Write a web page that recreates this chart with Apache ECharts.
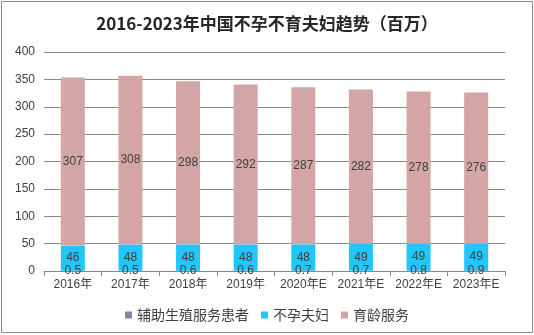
<!DOCTYPE html>
<html><head><meta charset="utf-8">
<script src="https://cdn.jsdelivr.net/npm/echarts@6/dist/echarts.min.js"></script>
<style>html,body{margin:0;padding:0;background:#fff}#c{width:534px;height:335px}</style>
</head><body><div id="c"></div>
<script>
var categories = ['2016年','2017年','2018年','2019年','2020年E','2021年E','2022年E','2023年E'];
var artPatients = [0.5,0.5,0.6,0.6,0.7,0.7,0.8,0.9];
var infertileCouples = [46,48,48,48,48,49,49,49];
var childbearing = [307,308,298,292,287,282,278,276];
var seriesNames = ['辅助生殖服务患者','不孕夫妇','育龄服务'];
var yTicks = {min:0,max:400,interval:50};

var chart = echarts.init(document.getElementById('c'));
var lbl = {show:true,position:'inside',color:'#404040',fontSize:12,fontFamily:'Liberation Sans, Arial'};
chart.setOption({
  animation:false,
  graphic:[{type:'rect',shape:{x:1.5,y:1.5,width:531,height:331},style:{fill:'none',stroke:'#8c8c8c',lineWidth:1}}],
  title:{text:'2016-2023年中国不孕不育夫妇趋势（百万）',left:'center',top:10,
    textStyle:{fontSize:17,fontWeight:'bold',color:'#262626',fontFamily:'Noto Sans CJK SC'}},
  grid:{left:44,right:29,top:52,bottom:64},
  legend:{bottom:8,left:'center',itemWidth:7,itemHeight:7,itemGap:12,icon:'rect',
    textStyle:{fontSize:14,color:'#404040',fontFamily:'Noto Sans CJK SC'},data:seriesNames},
  xAxis:{type:'category',data:categories,
    axisLine:{lineStyle:{color:'#898989'}},
    axisTick:{show:true,alignWithLabel:false,length:5,lineStyle:{color:'#898989'}},
    axisLabel:{interval:0,color:'#404040',fontSize:12,margin:8,fontFamily:'Liberation Sans, Noto Sans CJK SC'}},
  yAxis:{type:'value',min:yTicks.min,max:yTicks.max,interval:yTicks.interval,
    axisLine:{show:false},axisTick:{show:false},
    splitLine:{lineStyle:{color:'#898989'}},
    axisLabel:{color:'#404040',fontSize:12,margin:9,fontFamily:'Liberation Sans, Arial'}},
  series:[
    {name:seriesNames[0],type:'bar',stack:'a',data:artPatients,barWidth:24,itemStyle:{color:'#7d87a8'},label:lbl},
    {name:seriesNames[1],type:'bar',stack:'a',data:infertileCouples,barWidth:24,itemStyle:{color:'#21c7fc'},label:lbl},
    {name:seriesNames[2],type:'bar',stack:'a',data:childbearing,barWidth:24,itemStyle:{color:'#d3a5a5'},label:lbl}
  ]
});
</script></body></html>
